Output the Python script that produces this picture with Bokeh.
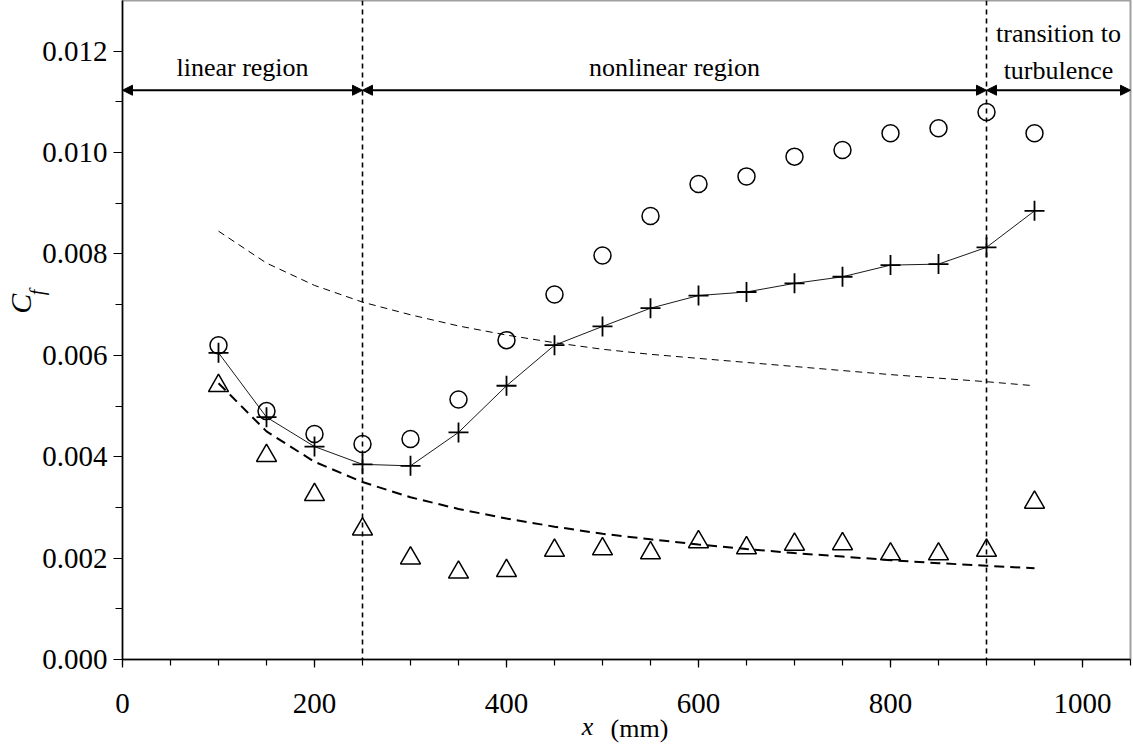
from bokeh.plotting import figure
from bokeh.models import (FixedTicker, PrintfTickFormatter, Span, Arrow, NormalHead,
                          Label, Range1d, LinearAxis)
from bokeh.embed import file_html
from bokeh.resources import INLINE

# ---- data ----
x_mm = [100, 150, 200, 250, 300, 350, 400, 450, 500, 550, 600, 650, 700, 750, 800, 850, 900, 950]
cf_circle = [0.00620, 0.00490, 0.00445, 0.00425, 0.00435, 0.00513, 0.00630, 0.00720, 0.00797,
             0.00875, 0.00938, 0.00953, 0.00992, 0.01005, 0.01038, 0.01048, 0.01080, 0.01038]
cf_plus = [0.00605, 0.00478, 0.00420, 0.00385, 0.00382, 0.00448, 0.00540, 0.00620, 0.00657,
           0.00693, 0.00718, 0.00725, 0.00742, 0.00755, 0.00778, 0.00780, 0.00813, 0.00885]
cf_triangle = [0.00540, 0.00402, 0.00325, 0.00257, 0.00200, 0.00172, 0.00175, 0.00215, 0.00218,
               0.00210, 0.00232, 0.00220, 0.00227, 0.00228, 0.00208, 0.00208, 0.00215, 0.00310]
cf_laminar = [0.00545, 0.00450, 0.00390, 0.00350, 0.00320, 0.00297, 0.00278, 0.00262, 0.00248,
              0.00237, 0.00227, 0.00218, 0.00210, 0.00203, 0.00196, 0.00190, 0.00185, 0.00180]
cf_turbulent = [0.00845, 0.00782, 0.00738, 0.00705, 0.00680, 0.00658, 0.00640, 0.00625, 0.00612,
                0.00602, 0.00594, 0.00586, 0.00578, 0.00570, 0.00562, 0.00555, 0.00548, 0.00540]
region_bounds = [250, 900]
region_edges = [0, 250, 900, 1050]
region_names = ["linear region", "nonlinear region", "transition to\nturbulence"]
x_ticks = [0, 200, 400, 600, 800, 1000]
y_ticks = [0.000, 0.002, 0.004, 0.006, 0.008, 0.010, 0.012]

FONT = "Liberation Serif"
NB = "\u00a0"

p = figure(width=1133, height=747, output_backend="svg", toolbar_location=None,
           x_range=Range1d(0, 1050), y_range=Range1d(0, 0.013))
p.min_border_left = 122
p.min_border_right = 3
p.min_border_top = 0
p.min_border_bottom = 88
p.background_fill_color = "white"
p.border_fill_color = "white"
p.outline_line_color = "#a0a0a0"
p.outline_line_width = 2
p.xgrid.visible = False
p.ygrid.visible = False

xa = p.xaxis[0]
ya = p.yaxis[0]
xa.ticker = FixedTicker(ticks=x_ticks, minor_ticks=list(range(0, 1051, 50)))
ya.ticker = FixedTicker(ticks=y_ticks, minor_ticks=[i * 0.001 for i in range(14)])
ya.formatter = PrintfTickFormatter(format="%.3f")
for ax in (xa, ya):
    ax.axis_line_color = "black"
    ax.axis_line_width = 1.5
    ax.major_tick_line_color = "black"
    ax.minor_tick_line_color = "black"
    ax.major_tick_line_width = 1.2
    ax.minor_tick_line_width = 1.2
    ax.major_tick_in = 0
    ax.minor_tick_in = 0
    ax.major_label_text_font = FONT
    ax.major_label_text_font_size = "29px"
    ax.major_label_text_color = "black"
    ax.axis_label_text_font = FONT
    ax.axis_label_text_color = "black"
xa.major_tick_out = 8
xa.minor_tick_out = 6
ya.major_tick_out = 9
ya.minor_tick_out = 7
xa.major_label_standoff = 26
ya.major_label_standoff = 6

# axis titles: "(mm)" on x axis, subscript "f" on y axis
xa.axis_label = NB * 4 + "(mm)"
xa.axis_label_text_font_size = "26px"
xa.axis_label_text_font_style = "normal"
xa.axis_label_standoff = -2
ya.axis_label = NB * 15 + "f"
ya.axis_label_text_font_size = "20px"
ya.axis_label_text_font_style = "italic"
ya.axis_label_standoff = -9


def title_axis(label, size, standoff, style="italic"):
    return LinearAxis(ticker=FixedTicker(ticks=[]), axis_line_color=None,
                      major_tick_line_color=None, minor_tick_line_color=None,
                      major_tick_out=0, minor_tick_out=0, major_tick_in=0, minor_tick_in=0,
                      major_label_text_font_size="0px", axis_label=label,
                      axis_label_text_font=FONT, axis_label_text_font_size=size,
                      axis_label_text_font_style=style, axis_label_text_color="black",
                      axis_label_standoff=standoff)


p.add_layout(title_axis(NB * 7 + "C", "30px", -13), "left")
p.add_layout(title_axis("x" + NB * 12, "26px", -34), "below")

# reference curves
p.line(x_mm, cf_turbulent, line_color="black", line_width=1, line_dash="7 5")
p.line(x_mm, cf_laminar, line_color="black", line_width=2, line_dash="10 6")
p.line(x_mm, cf_plus, line_color="black", line_width=0.9)

# markers
p.scatter(x_mm, cf_circle, marker="circle", size=17, fill_color=None,
          line_color="black", line_width=1.5)
p.scatter(x_mm, cf_plus, marker="cross", size=20, line_color="black", line_width=1.8)
p.scatter(x_mm, cf_triangle, marker="triangle", size=20, fill_color=None,
          line_color="black", line_width=1.5)

# region boundaries
for b in region_bounds:
    p.add_layout(Span(location=b, dimension="height", line_color="black",
                      line_width=1.6, line_dash="5 4"))

arrow_y = 0.01123
for i in range(3):
    p.add_layout(Arrow(x_start=region_edges[i], x_end=region_edges[i + 1],
                       y_start=arrow_y, y_end=arrow_y, line_width=2, line_color="black",
                       start=NormalHead(size=10, fill_color="black", line_color="black"),
                       end=NormalHead(size=10, fill_color="black", line_color="black")))

lbl = dict(text_font=FONT, text_font_size="26px", text_align="center",
           text_baseline="alphabetic", text_color="black")
p.add_layout(Label(x=(region_edges[0] + region_edges[1]) / 2, y=0.01167, text=region_names[0], **lbl))
p.add_layout(Label(x=(region_edges[1] + region_edges[2]) / 2, y=0.01167, text=region_names[1], **lbl))
lines = region_names[2].split("\n")
mid3 = (region_edges[2] + region_edges[3]) / 2
p.add_layout(Label(x=mid3, y=0.01235, text=lines[0], **lbl))
p.add_layout(Label(x=mid3, y=0.01161, text=lines[1], **lbl))

open("out.html", "w").write(file_html(p, INLINE))
